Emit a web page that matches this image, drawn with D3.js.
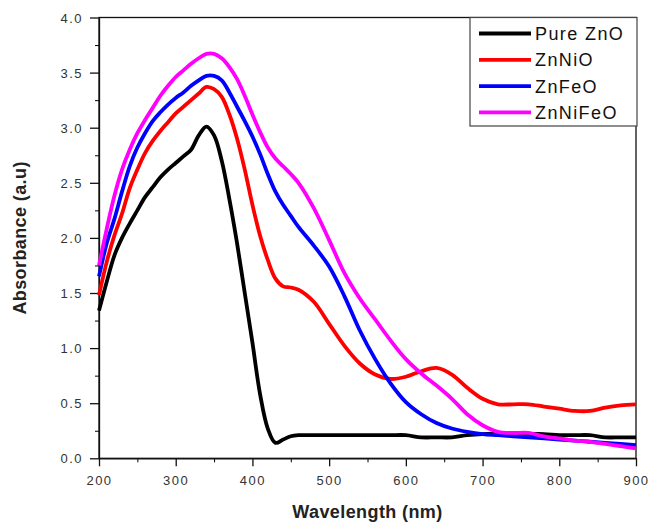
<!DOCTYPE html>
<html>
<head>
<meta charset="utf-8">
<script src="https://cdn.jsdelivr.net/npm/d3@7"></script>
<style>
  body { margin: 0; background: #fff; }
  svg { display: block; font-family: Arial, "Liberation Sans", sans-serif; }
</style>
</head>
<body>
<div id="chart"></div>
<script>
// wavelength grid (nm)
var wavelength = [200,210,220,230,240,250,260,270,280,290,300,310,320,330,340,350,360,370,380,390,400,410,420,430,440,450,460,480,500,520,540,560,580,600,620,640,660,680,700,720,740,760,780,800,820,840,860,880,900];

var pureZnO = [1.34,1.60,1.84,2.00,2.13,2.25,2.37,2.46,2.55,2.62,2.68,2.74,2.80,2.93,3.01,2.93,2.70,2.35,1.95,1.50,1.05,0.58,0.27,0.14,0.17,0.20,0.21,0.21,0.21,0.21,0.21,0.21,0.21,0.21,0.19,0.19,0.19,0.21,0.22,0.22,0.22,0.22,0.22,0.21,0.21,0.21,0.19,0.19,0.19];
var znNiO = [1.48,1.78,2.02,2.22,2.45,2.62,2.77,2.88,2.97,3.05,3.13,3.19,3.25,3.31,3.37,3.35,3.28,3.12,2.90,2.62,2.30,2.02,1.80,1.63,1.56,1.55,1.53,1.42,1.22,1.02,0.86,0.76,0.72,0.74,0.79,0.82,0.76,0.64,0.54,0.49,0.49,0.49,0.47,0.45,0.43,0.43,0.46,0.48,0.49];
var znFeO = [1.65,1.95,2.17,2.42,2.65,2.82,2.95,3.06,3.14,3.21,3.27,3.32,3.38,3.43,3.47,3.47,3.43,3.32,3.19,3.06,2.92,2.76,2.58,2.42,2.30,2.20,2.10,1.93,1.74,1.47,1.16,0.90,0.68,0.51,0.40,0.32,0.27,0.24,0.22,0.21,0.20,0.19,0.18,0.17,0.16,0.15,0.14,0.13,0.12];
var znNiFeO = [1.75,2.08,2.38,2.62,2.80,2.95,3.07,3.18,3.29,3.38,3.46,3.52,3.58,3.63,3.67,3.67,3.63,3.55,3.44,3.29,3.12,2.96,2.82,2.72,2.65,2.58,2.50,2.27,1.98,1.68,1.45,1.26,1.07,0.90,0.77,0.66,0.54,0.40,0.30,0.24,0.23,0.23,0.20,0.18,0.16,0.15,0.13,0.11,0.09];

var seriesNames = ["Pure ZnO", "ZnNiO", "ZnFeO", "ZnNiFeO"];
var seriesColors = ["#000000", "#ff0000", "#0000ff", "#ff00ff"];
var seriesValues = [pureZnO, znNiO, znFeO, znNiFeO];

var xTicks = [200,300,400,500,600,700,800,900];
var yTicks = [0,0.5,1,1.5,2,2.5,3,3.5,4];

var W = 649, H = 525;
var margin = {top: 17.5, right: 13, bottom: 66.7, left: 99},
    width = W - margin.left - margin.right,
    height = H - margin.top - margin.bottom;

var svg = d3.select("#chart").append("svg")
    .attr("width", W).attr("height", H);
var g = svg.append("g")
    .attr("transform", "translate(" + margin.left + "," + margin.top + ")");

var x = d3.scaleLinear().domain([200, 900]).range([0, width]);
var y = d3.scaleLinear().domain([0, 4]).range([height, 0]);

// minor ticks first
g.append("g")
    .attr("transform", "translate(0," + height + ")")
    .call(d3.axisBottom(x).tickValues(d3.range(250, 900, 100)).tickSize(4).tickFormat(""))
    .call(function(s){ s.select(".domain").remove(); });
g.append("g")
    .call(d3.axisLeft(y).tickValues(d3.range(0.25, 4, 0.5)).tickSize(4).tickFormat(""))
    .call(function(s){ s.select(".domain").remove(); });

var xAxis = g.append("g")
    .attr("transform", "translate(0," + height + ")")
    .call(d3.axisBottom(x).tickValues(xTicks).tickSize(8).tickSizeOuter(0).tickPadding(9));
var yAxis = g.append("g")
    .call(d3.axisLeft(y).tickValues(yTicks).tickSize(9).tickSizeOuter(0).tickPadding(7)
      .tickFormat(d3.format(".1f")));

[xAxis, yAxis].forEach(function(a){
  a.selectAll("text")
    .attr("fill", "#333")
    .style("font-size", "13px")
    .style("letter-spacing", "1.5px");
  a.selectAll("line, path").attr("stroke", "#111").attr("stroke-width", 1.3);
});
yAxis.selectAll("text").attr("dy", "0.36em");

// frame
g.append("rect")
    .attr("width", width).attr("height", height)
    .attr("fill", "none").attr("stroke", "#111").attr("stroke-width", 1.3);

var line = d3.line()
    .x(function(d){ return x(d[0]); })
    .y(function(d){ return y(d[1]); })
    .curve(d3.curveCatmullRom.alpha(0.5));

g.selectAll("path.series")
    .data(seriesValues)
    .enter().append("path")
    .attr("class", "series")
    .attr("fill", "none")
    .attr("stroke", function(d, i){ return seriesColors[i]; })
    .attr("stroke-width", 3.8)
    .attr("stroke-linejoin", "round")
    .attr("d", function(vals){ return line(wavelength.map(function(w, i){ return [w, vals[i]]; })); });

// legend
var lg = svg.append("g").attr("transform", "translate(470,17.5)");
lg.append("rect")
    .attr("width", 167).attr("height", 108.5)
    .attr("fill", "#fff").attr("stroke", "#444").attr("stroke-width", 1.2);
seriesNames.forEach(function(n, i){
  var yy = 16 + i * 26.3;
  lg.append("line")
    .attr("x1", 9).attr("x2", 61).attr("y1", yy).attr("y2", yy)
    .attr("stroke", seriesColors[i]).attr("stroke-width", 3.8);
  lg.append("text")
    .attr("x", 65).attr("y", yy).attr("dy", "0.36em")
    .style("font-size", "18px").style("letter-spacing", "1.4px")
    .attr("fill", "#111")
    .text(n);
});

// axis titles
svg.append("text")
    .attr("x", margin.left + width / 2).attr("y", 518)
    .attr("text-anchor", "middle")
    .style("font-size", "18px").style("font-weight", "bold").style("letter-spacing", "0.4px")
    .attr("fill", "#222")
    .text("Wavelength (nm)");
svg.append("text")
    .attr("transform", "translate(26," + (margin.top + height / 2) + ") rotate(-90)")
    .attr("text-anchor", "middle")
    .style("font-size", "18px").style("font-weight", "bold").style("letter-spacing", "0.4px")
    .attr("fill", "#222")
    .text("Absorbance (a.u)");
</script>
</body>
</html>
